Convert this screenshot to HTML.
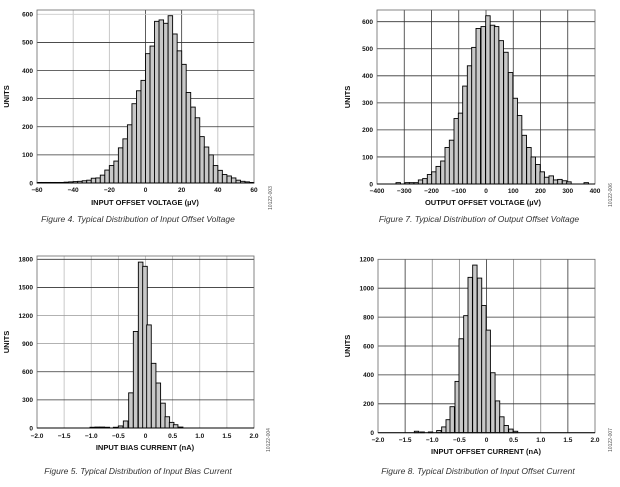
<!DOCTYPE html>
<html><head><meta charset="utf-8"><style>
html,body{margin:0;padding:0;background:#fff;width:620px;height:487px;overflow:hidden}
svg{display:block}
text{font-family:"Liberation Sans",sans-serif;fill:#111}
.t{font-size:6.5px;font-weight:bold}
.a{font-size:7.5px;font-weight:bold}
.c{font-size:8.5px;font-style:italic;fill:#333}
.s{font-size:5px;fill:#555}
</style></head><body>
<svg id="s" width="620" height="487" xmlns="http://www.w3.org/2000/svg"></svg>
<script>
var S=document.getElementById('s'),out='';
function L(x1,y1,x2,y2,c,w){out+='<line x1="'+x1+'" y1="'+y1+'" x2="'+x2+'" y2="'+y2+'" stroke="'+c+'" stroke-width="'+w+'"/>';}
function T(x,y,s,cl,anc,rot){out+='<text x="'+x+'" y="'+y+'" class="'+cl+'" text-anchor="'+(anc||'middle')+'"'+(rot?' transform="rotate(-90 '+x+' '+y+')"':'')+'>'+s+'</text>';}
function chart(o){
 var x0=o.x0,x1=o.x1,yt=o.yt,yb=o.yb;
 // vertical grid
 o.xt.forEach(function(v,i){var px=x0+(x1-x0)*i/(o.xt.length-1);
  if(i>0&&i<o.xt.length-1)L(px,yt,px,yb,o.vc[i]||'#bbb',0.8);
  T(px,o.tly,v,'t');});
 o.yt_.forEach(function(v){var py=yb-(v/o.ymax)*(yb-o.yt0);
  if(v>0&&py>yt+1)L(x0,py,x1,py,o.hc&&o.hc[v]?o.hc[v]:'#333',0.8);
  T(x0-4,py+2.3,v,'t','end');});
 // bars
 o.bars.forEach(function(b){var px=o.ox+b[0]/3,h=(b[1]/o.ymax)*(yb-o.yt0);
  out+='<rect x="'+px+'" y="'+(yb-h)+'" width="'+o.bw+'" height="'+h+'" fill="#c8c8c8" stroke="#000" stroke-width="0.9"/>';});
 out+='<rect x="'+x0+'" y="'+yt+'" width="'+(x1-x0)+'" height="'+(yb-yt)+'" fill="none" stroke="#666" stroke-width="0.8"/>';
 L(x0,yb,x1,yb,'#000',1);
 T(o.ux,(yt+yb)/2,'UNITS','a','middle',1);
 T(o.axx,o.axy,o.title,'a');
 T(o.cx,o.cy,o.cap,'c');
 T(o.sx,o.sy,o.code,'s','middle',1);
}
// chart 1
var b1=[],v1={'-60':2,'-57.5':2,'-55':2,'-52.5':2,'-50':2,'-47.5':2,'-45':3,'-42.5':4,'-40':5,'-37.5':6,'-35':8,'-32.5':10,'-30':17,'-27.5':18,'-25':28,'-22.5':46,'-20':62,'-17.5':78,'-15':125,'-12.5':157,'-10':207,'-7.5':282,'-5':328,'-2.5':365,'0':460,'2.5':487,'5':575,'7.5':580,'10':568,'12.5':595,'15':530,'17.5':470,'20':422,'22.5':322,'25':270,'27.5':232,'30':165,'32.5':128,'35':100,'37.5':62,'40':45,'42.5':30,'45':25,'47.5':18,'50':10,'52.5':6,'55':4,'57.5':2};
for(var k in v1){var v=parseFloat(k);b1.push([ (37+(v+60)*217/120)*3, v1[k]]);}
chart({x0:37,x1:254,yt:10,yb:183,yt0:14.3,ymax:600,ox:0,bw:217/48,
 xt:['−60','−40','−20','0','20','40','60'],vc:{3:'#333',4:'#333'},tly:192,
 yt_:[0,100,200,300,400,500,600],hc:{600:'#ccc'},bars:b1,ux:9,title:'INPUT OFFSET VOLTAGE (µV)',axx:145,axy:205,
 cap:'Figure 4. Typical Distribution of Input Offset Voltage',cx:138,cy:222,sx:272,sy:198,code:'10122-003'});
// chart 2
var b2=[[258,5],[285,5],[298,5],[312,5],[325,15],[338,20],[352,35],[365,45],[378,65],[392,85],[405,135],[418,162],[432,242],[445,262],[458,362],[472,437],[485,505],[498,575],[513,582],[527,622],[541,587],[553,582],[567,530],[581,487],[595,412],[609,317],[622,253],[636,180],[650,135],[663,100],[677,72],[690,45],[703,25],[717,30],[730,15],[743,17],[757,12],[770,8],[822,5]];
chart({x0:377,x1:595,yt:10,yb:184,yt0:21.7,ymax:600,ox:310,bw:4.5,
 xt:['−400','−300','−200','−100','0','100','200','300','400'],vc:{1:'#333',2:'#333',3:'#333',4:'#333',5:'#333',6:'#333',7:'#333'},tly:193,
 yt_:[0,100,200,300,400,500,600],bars:b2,ux:350,title:'OUTPUT OFFSET VOLTAGE (µV)',axx:483,axy:205,
 cap:'Figure 7. Typical Distribution of Output Offset Voltage',cx:479,cy:222,sx:612,sy:195,code:'10122-006'});
// chart 3
var b3=[[270,8],[285,10],[300,10],[315,8],[340,8],[355,22],[370,75],[386,375],[400,1030],[415,1770],[428,1725],[440,1100],[454,690],[468,480],[482,265],[495,120],[508,60],[520,35],[535,10]];
chart({x0:37,x1:254,yt:256,yb:428,yt0:259.3,ymax:1800,ox:0,bw:4.6,
 xt:['−2.0','−1.5','−1.0','−0.5','0','0.5','1.0','1.5','2.0'],vc:{},tly:438,
 yt_:[0,300,600,900,1200,1500,1800],hc:{900:'#999',1200:'#999',1800:'#333'},bars:b3,ux:9,title:'INPUT BIAS CURRENT (nA)',axx:145,axy:450,
 cap:'Figure 5. Typical Distribution of Input Bias Current',cx:138,cy:474,sx:270,sy:440,code:'10122-004'});
// chart 4
var b4=[[313,10],[330,5],[355,5],[380,15],[395,40],[408,90],[420,180],[435,355],[447,650],[461,810],[474,1075],[488,1160],[502,1070],[515,880],[528,710],[542,415],[556,220],[569,110],[582,50],[596,25],[610,10]];
chart({x0:378,x1:595,yt:259.3,yb:432.7,yt0:259.3,ymax:1200,ox:310,bw:4.4,
 xt:['−2.0','−1.5','−1.0','−0.5','0','0.5','1.0','1.5','2.0'],vc:{1:'#333',2:'#888',3:'#888',4:'#333',5:'#888',6:'#888',7:'#333'},tly:442,
 yt_:[0,200,400,600,800,1000,1200],bars:b4,ux:350,title:'INPUT OFFSET CURRENT (nA)',axx:486,axy:454,
 cap:'Figure 8. Typical Distribution of Input Offset Current',cx:478,cy:474,sx:612,sy:440,code:'10122-007'});
S.innerHTML=out;
</script>
</body></html>
